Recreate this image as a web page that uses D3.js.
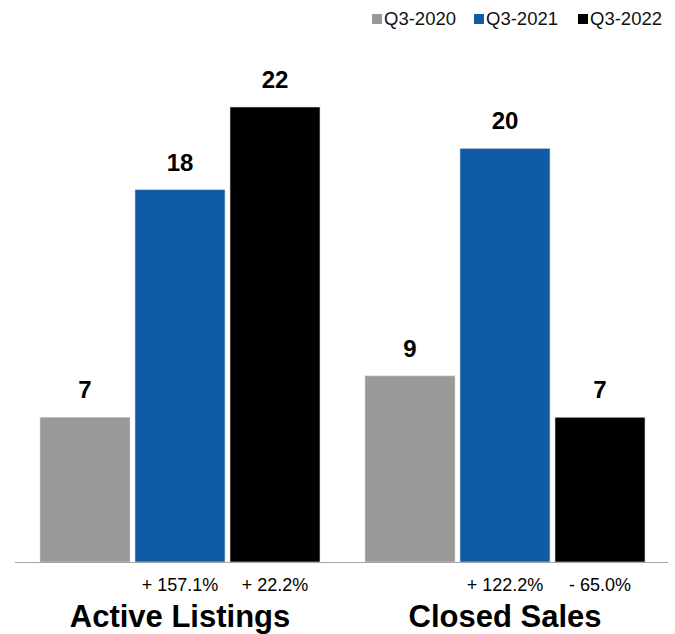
<!DOCTYPE html>
<html>
<head>
<meta charset="utf-8">
<script src="https://cdn.jsdelivr.net/npm/d3@7"></script>
<style>
  html, body { margin: 0; padding: 0; background: #fff; }
  svg { display: block; font-family: "Liberation Sans", Arial, Helvetica, sans-serif; }
</style>
</head>
<body>
<svg id="chart" width="675" height="634"></svg>
<script>
// Quarterly comparison data
const categories = ["Active Listings", "Closed Sales"];
const seriesNames = ["Q3-2020", "Q3-2021", "Q3-2022"];
const seriesColors = ["#999999", "#0f5ba5", "#000000"];
const valuesQ3_2020 = [7, 9];
const valuesQ3_2021 = [18, 20];
const valuesQ3_2022 = [22, 7];
// Year-over-year change shown under the 2021 and 2022 bars
const changeQ3_2021 = ["+ 157.1%", "+ 122.2%"];
const changeQ3_2022 = ["+ 22.2%", "- 65.0%"];

const seriesValues = [valuesQ3_2020, valuesQ3_2021, valuesQ3_2022];
const seriesChanges = [null, changeQ3_2021, changeQ3_2022];

const svg = d3.select("#chart");
const baseY = 562;

const x0 = d3.scaleBand()
  .domain(categories)
  .range([17.5, 667.5])
  .paddingInner(45 / 325)
  .paddingOuter(45 / 650);

const x1 = d3.scaleBand()
  .domain(seriesNames)
  .range([0, x0.bandwidth()])
  .paddingInner(5 / 95)
  .paddingOuter(0);

const y = d3.scaleLinear()
  .domain([0, 22])
  .range([baseY, 107]);

const color = d3.scaleOrdinal().domain(seriesNames).range(seriesColors);

// Flatten into one record per bar
const bars = [];
categories.forEach((cat, ci) => {
  seriesNames.forEach((s, si) => {
    bars.push({
      category: cat,
      series: s,
      value: seriesValues[si][ci],
      change: seriesChanges[si] ? seriesChanges[si][ci] : null
    });
  });
});

const barCenter = d => x0(d.category) + x1(d.series) + x1.bandwidth() / 2;

const groups = svg.append("g");

groups.selectAll("rect.bar")
  .data(bars)
  .join("rect")
  .attr("class", "bar")
  .attr("x", d => x0(d.category) + x1(d.series))
  .attr("y", d => y(d.value))
  .attr("width", x1.bandwidth())
  .attr("height", d => baseY - y(d.value))
  .attr("fill", d => color(d.series))
  .attr("stroke", "#d8d8d8")
  .attr("stroke-width", 0.6);

// Value labels above bars
groups.selectAll("text.value")
  .data(bars)
  .join("text")
  .attr("class", "value")
  .attr("x", barCenter)
  .attr("y", d => y(d.value) - 19)
  .attr("text-anchor", "middle")
  .attr("font-size", 24)
  .attr("font-weight", "bold")
  .attr("fill", "#000")
  .text(d => d.value);

// Baseline
svg.append("line")
  .attr("x1", 15).attr("x2", 668)
  .attr("y1", baseY + 0.5).attr("y2", baseY + 0.5)
  .attr("stroke", "#a6a6a6")
  .attr("stroke-width", 1.2);

// Percent change labels
groups.selectAll("text.change")
  .data(bars.filter(d => d.change))
  .join("text")
  .attr("class", "change")
  .attr("x", barCenter)
  .attr("y", baseY + 29)
  .attr("text-anchor", "middle")
  .attr("font-size", 18)
  .attr("fill", "#000")
  .text(d => d.change);

// Category labels
svg.selectAll("text.cat")
  .data(categories)
  .join("text")
  .attr("class", "cat")
  .attr("x", d => x0(d) + x0.bandwidth() / 2)
  .attr("y", 627)
  .attr("text-anchor", "middle")
  .attr("font-size", 31)
  .attr("font-weight", "bold")
  .attr("fill", "#000")
  .text(d => d);

// Legend
const legendX = [372, 474, 578];
const legend = svg.append("g");
const items = legend.selectAll("g")
  .data(seriesNames)
  .join("g")
  .attr("transform", (d, i) => `translate(${legendX[i]},0)`);
items.append("rect")
  .attr("x", 0).attr("y", 14)
  .attr("width", 10).attr("height", 10)
  .attr("fill", d => color(d));
items.append("text")
  .attr("x", 12).attr("y", 25)
  .attr("font-size", 18.5)
  .attr("fill", "#111")
  .text(d => d);
</script>
</body>
</html>
